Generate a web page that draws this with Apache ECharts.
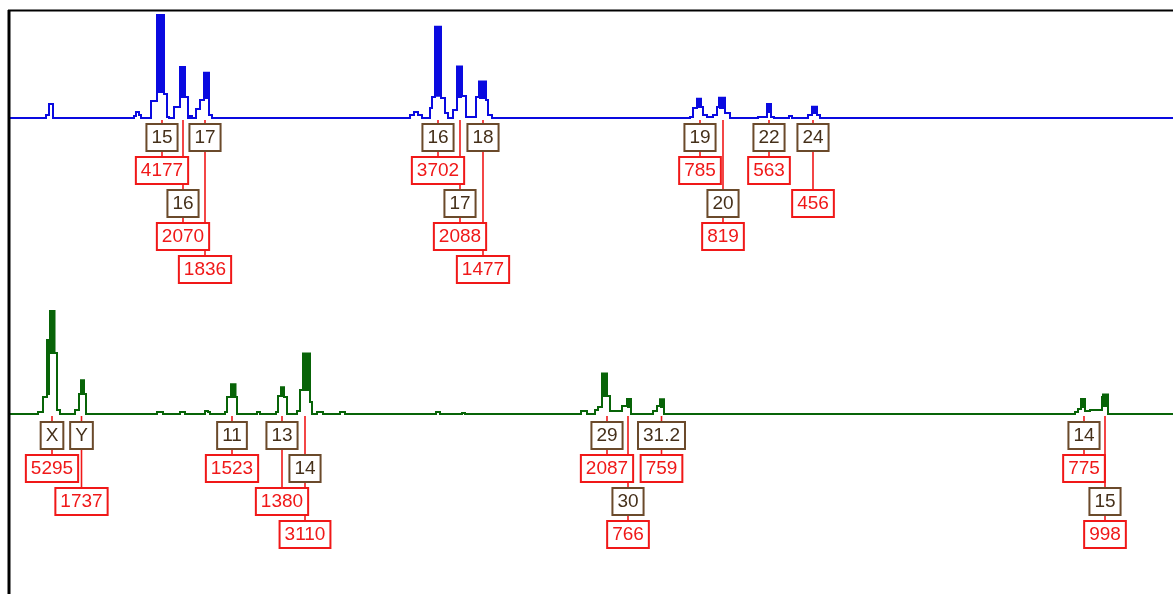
<!DOCTYPE html>
<html>
<head>
<meta charset="utf-8">
<script src="https://cdn.jsdelivr.net/npm/echarts@6/dist/echarts.min.js"></script>
<style>
html, body { margin: 0; padding: 0; background: #fff; }
#chart { width: 1173px; height: 594px; }
</style>
</head>
<body>
<div id="chart"></div>
<script>
// Blue dye channel: [scan position, RFU]; each level holds until the next point
const blueTrace = [
  [9,0],
  [46,122],[49,568],[53,0],
  [134,81],[136,243],[139,122],[141,0],
  [151,689],[157,4177],[158,1054],[159,4177],[160,1054],[161,4177],[162,1054],[163,4177],[164,973],[167,41],[169,0],
  [174,446],[180,2070],[181,852],[182,2070],[183,852],[184,2070],[185,852],[188,0],[190,81],[192,0],
  [196,365],[200,730],[204,1836],[205,811],[206,1836],[207,811],[208,1836],[209,122],[212,0],
  [410,122],[414,243],[418,122],[422,0],
  [430,406],[432,852],[435,3702],[436,900],[437,3702],[438,900],[439,3702],[441,811],[445,203],[448,0],
  [453,324],[457,2088],[458,852],[459,2088],[460,852],[461,2088],[462,892],[466,41],
  [476,852],[479,1477],[480,811],[481,1477],[482,811],[483,1477],[484,811],[485,1477],[486,730],[488,122],[492,0],
  [690,41],[693,406],[697,785],[698,446],[699,785],[701,446],[703,122],[707,41],[713,122],[717,446],
  [719,819],[720,406],[721,819],[722,406],[723,819],[725,203],[730,0],
  [758,41],[767,563],[768,243],[769,563],[771,41],[774,0],[789,81],[792,0],
  [808,122],[812,456],[813,203],[814,456],[815,203],[816,456],[817,122],[820,0],
  [1173,0]
];

// Green dye channel: [scan position, RFU]
const greenTrace = [
  [9,0],
  [38,103],[43,874],[47,3804],[48,1028],[49,3804],[50,5295],[51,3135],[52,5295],[53,3135],[54,5295],[54.5,3135],[57,206],[60,0],
  [75,206],[79,1028],[81,1737],[82,1028],[83,1737],[84,1028],[86,0],
  [157,103],[163,0],[180,103],[185,0],[205,154],[208,103],[210,0],
  [225,103],[227,874],[231,1523],[232,874],[233,1523],[234,874],[235,1523],[235.5,874],[237,0],
  [257,103],[260,0],
  [276,103],[278,925],[281,1380],[282,925],[283,1380],[284,874],[287,0],
  [297,154],[300,1234],[303,3110],[304,1234],[305,3110],[306,1234],[307,3110],[308,1234],[309,3110],[310,617],[312,0],
  [317,103],[323,0],[340,103],[345,0],
  [436,103],[440,0],[462,51],[465,0],
  [581,154],[587,0],[595,206],[598,360],[602,2087],[603,925],[604,2087],[605,925],[606,2087],[607,925],[610,154],
  [622,411],[627,766],[628,360],[629,766],[631,0],
  [653,154],[657,411],[660,759],[661,360],[662,759],[664,0],
  [1075,103],[1078,257],[1081,775],[1082,360],[1083,775],[1085,154],[1090,206],
  [1102,874],[1103,998],[1104,411],[1105,998],[1106,411],[1107,998],[1108,0],
  [1173,0]
];

// Allele calls, blue channel
const blueAlleles   = ['15','16','17','16','17','18','19','20','22','24'];
const bluePositions = [162, 183, 205, 438, 460, 483, 700, 723, 769, 813];
const blueHeights   = [4177, 2070, 1836, 3702, 2088, 1477, 785, 819, 563, 456];
// label stacking rows: [allele box row, height box row]
const blueRows      = [[0,1],[2,3],[0,4],[0,1],[2,3],[0,4],[0,1],[2,3],[0,1],[0,2]];

// Allele calls, green channel
const greenAlleles   = ['X','Y','11','13','14','29','30','31.2','14','15'];
const greenPositions = [52, 81.5, 232, 282, 305, 607, 628, 661.5, 1084, 1105];
const greenHeights   = [5295, 1737, 1523, 1380, 3110, 2087, 766, 759, 775, 998];
const greenRows      = [[0,1],[0,2],[0,1],[0,2],[1,3],[0,1],[2,3],[0,1],[0,1],[2,3]];

const RED = '#f01818';
const BROWN = '#6b4a2b';
const BROWN_TEXT = '#45301a';
const FONT = '19px "Liberation Sans", Arial, sans-serif';
const ROW_PITCH = 33;

// Level-change list -> polyline with square corners (horizontal hold, then vertical jump)
function squareSteps(trace) {
  const out = [trace[0]];
  for (let i = 1; i < trace.length; i++) {
    out.push([trace[i][0], trace[i - 1][1]]);
    out.push(trace[i]);
  }
  return out;
}

// Whole trace as one polyline, every vertex placed through the axes
function traceSeries(axisIdx, trace, color) {
  const steps = squareSteps(trace);
  return {
    type: 'custom',
    xAxisIndex: axisIdx,
    yAxisIndex: axisIdx,
    clip: false,
    silent: true,
    z: 4,
    data: trace,
    renderItem: function (params, api) {
      if (params.dataIndex !== 0) return null;
      return {
        type: 'polyline',
        shape: { points: steps.map(p => api.coord(p)) },
        style: { stroke: color, lineWidth: 2, fill: null, lineJoin: 'miter' }
      };
    }
  };
}

function boxText(text, x, y, color, textColor) {
  return {
    type: 'text',
    x: x,
    y: y,
    style: {
      text: text,
      font: FONT,
      fill: textColor,
      align: 'center',
      verticalAlign: 'top',
      lineHeight: 15,
      backgroundColor: '#fff',
      borderColor: color,
      borderWidth: 2,
      padding: [5, 4, 5, 4]
    }
  };
}

// part: 'leader' draws the red connector lines, 'boxes' draws the labelled boxes on top
function callSeries(axisIdx, alleles, positions, heights, rows, rowStart, part) {
  return {
    type: 'custom',
    xAxisIndex: axisIdx,
    yAxisIndex: axisIdx,
    clip: false,
    silent: true,
    z: part === 'leader' ? 3 : 6,
    data: positions.map((p, i) => [p, 0, i]),
    renderItem: function (params, api) {
      const i = api.value(2);
      const base = api.coord([api.value(0), 0]);
      const x = base[0];
      const rowTop = r => base[1] + rowStart + r * ROW_PITCH;
      if (part === 'leader') {
        return {
          type: 'line',
          shape: { x1: x, y1: base[1] + 2, x2: x, y2: rowTop(rows[i][1]) },
          style: { stroke: RED, lineWidth: 1.6 }
        };
      }
      return {
        type: 'group',
        children: [
          boxText(alleles[i], x, rowTop(rows[i][0]), BROWN, BROWN_TEXT),
          boxText(String(heights[i]), x, rowTop(rows[i][1]), RED, RED)
        ]
      };
    }
  };
}

const chart = echarts.init(document.getElementById('chart'), null, { renderer: 'canvas' });

chart.setOption({
  animation: false,
  backgroundColor: '#fff',
  grid: [
    { left: 0, right: 0, top: 15, height: 103 },
    { left: 0, right: 0, top: 311, height: 103 }
  ],
  xAxis: [
    { type: 'value', gridIndex: 0, min: 0, max: 1173, show: false },
    { type: 'value', gridIndex: 1, min: 0, max: 1173, show: false }
  ],
  yAxis: [
    { type: 'value', gridIndex: 0, min: 0, max: Math.max(...blueHeights), show: false },
    { type: 'value', gridIndex: 1, min: 0, max: Math.max(...greenHeights), show: false }
  ],
  graphic: [
    { type: 'line', shape: { x1: 9, y1: 10, x2: 9, y2: 594 }, style: { stroke: '#000', lineWidth: 3 }, z: 10 },
    { type: 'line', shape: { x1: 8, y1: 10.5, x2: 1173, y2: 10.5 }, style: { stroke: '#000', lineWidth: 2 }, z: 10 }
  ],
  series: [
    traceSeries(0, blueTrace, '#0a0ae0'),
    traceSeries(1, greenTrace, '#086408'),
    callSeries(0, blueAlleles, bluePositions, blueHeights, blueRows, 7, 'leader'),
    callSeries(1, greenAlleles, greenPositions, greenHeights, greenRows, 9, 'leader'),
    callSeries(0, blueAlleles, bluePositions, blueHeights, blueRows, 7, 'boxes'),
    callSeries(1, greenAlleles, greenPositions, greenHeights, greenRows, 9, 'boxes')
  ]
});
</script>
</body>
</html>
